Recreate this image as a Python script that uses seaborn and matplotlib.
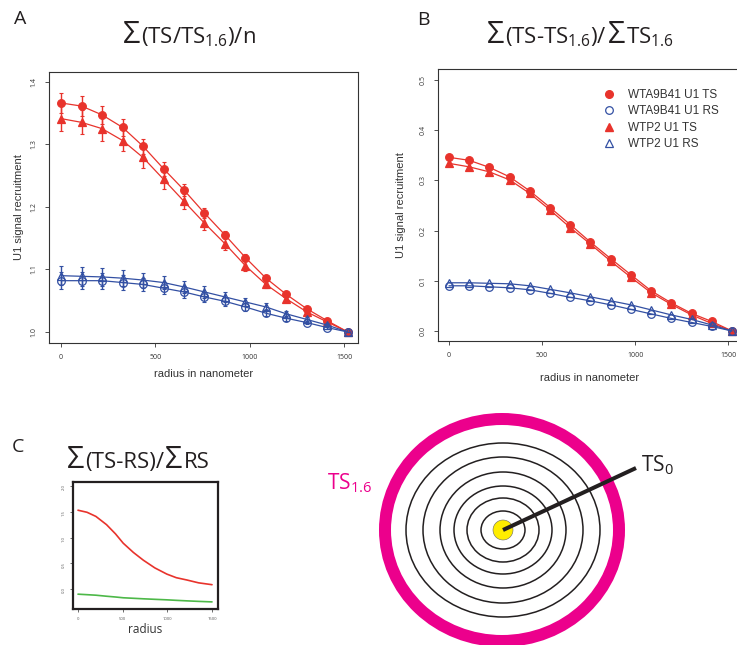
import seaborn as sns
import matplotlib.pyplot as plt
from matplotlib.lines import Line2D
from matplotlib.patches import Ellipse

# radius grid (nm) shared by panels A and B
radius = [0, 109, 217, 326, 434, 543, 651, 760, 869, 977, 1086, 1194, 1303, 1411, 1520]

# Panel A: sum(TS/TS1.6)/n
a_wta_ts = [1.366, 1.361, 1.347, 1.327, 1.297, 1.261, 1.227, 1.190, 1.155, 1.119, 1.086, 1.060, 1.037, 1.018, 1.000]
a_wta_ts_err = [0.016, 0.016, 0.014, 0.014, 0.012, 0.011, 0.010, 0.008, 0.006, 0.005, 0.004, 0.003, 0.003, 0.002, 0.0]
a_wtp_ts = [1.341, 1.335, 1.325, 1.306, 1.279, 1.244, 1.209, 1.174, 1.141, 1.106, 1.076, 1.053, 1.032, 1.016, 1.000]
a_wtp_ts_err = [0.020, 0.019, 0.020, 0.017, 0.017, 0.015, 0.012, 0.011, 0.010, 0.008, 0.006, 0.005, 0.004, 0.003, 0.0]
a_wta_rs = [1.082, 1.082, 1.082, 1.079, 1.076, 1.070, 1.064, 1.056, 1.049, 1.040, 1.030, 1.022, 1.015, 1.007, 1.000]
a_wta_rs_err = [0.014, 0.014, 0.013, 0.012, 0.011, 0.010, 0.009, 0.008, 0.007, 0.006, 0.005, 0.004, 0.003, 0.002, 0.0]
a_wtp_rs = [1.090, 1.089, 1.088, 1.086, 1.083, 1.079, 1.072, 1.064, 1.056, 1.048, 1.040, 1.029, 1.020, 1.011, 1.000]
a_wtp_rs_err = [0.015, 0.015, 0.014, 0.013, 0.012, 0.011, 0.010, 0.009, 0.008, 0.007, 0.006, 0.005, 0.004, 0.003, 0.0]

# Panel B: sum(TS-TS1.6)/sum(TS1.6)
b_wta_ts = [0.346, 0.340, 0.326, 0.307, 0.279, 0.246, 0.212, 0.177, 0.144, 0.112, 0.080, 0.056, 0.035, 0.019, 0.0]
b_wtp_ts = [0.334, 0.327, 0.317, 0.301, 0.274, 0.241, 0.206, 0.173, 0.139, 0.107, 0.076, 0.053, 0.032, 0.015, 0.0]
b_wta_rs = [0.090, 0.090, 0.088, 0.086, 0.082, 0.075, 0.067, 0.060, 0.052, 0.043, 0.034, 0.025, 0.017, 0.009, 0.0]
b_wtp_rs = [0.096, 0.096, 0.095, 0.094, 0.090, 0.083, 0.076, 0.068, 0.060, 0.052, 0.042, 0.032, 0.023, 0.012, 0.0]

series_labels = ["WTA9B41 U1 TS", "WTA9B41 U1 RS", "WTP2 U1 TS", "WTP2 U1 RS"]

# Panel C: sum(TS-RS)/sum(RS)
c_radius = [0, 101, 200, 319, 420, 506, 620, 731, 860, 994, 1100, 1219, 1350, 1500]
c_red = [1.53, 1.49, 1.41, 1.25, 1.07, 0.89, 0.71, 0.56, 0.41, 0.29, 0.22, 0.175, 0.12, 0.084]
c_green = [-0.10, -0.11, -0.12, -0.14, -0.155, -0.17, -0.18, -0.19, -0.20, -0.21, -0.22, -0.23, -0.24, -0.25]

RED = "#E8332C"
BLUE = "#3350A3"
GREEN = "#4DB848"
MAGENTA = "#EC008C"
DARK = "#231F20"

W, H = 737, 645

sns.set_theme(style="ticks")
plt.rcParams["font.family"] = ["Open Sans", "DejaVu Sans"]
plt.rcParams["mathtext.fontset"] = "custom"
plt.rcParams["mathtext.rm"] = "Open Sans"
plt.rcParams["mathtext.it"] = "Open Sans:italic"
plt.rcParams["mathtext.bf"] = "Open Sans:bold"

fig = plt.figure(figsize=(W / 100, H / 100), dpi=100)


def px_axes(left, top, right, bottom):
    return fig.add_axes([left / W, 1 - bottom / H, (right - left) / W, (bottom - top) / H])


def draw_pieces(x_px, base_px, pieces, color=DARK):
    # draw text pieces side by side on one baseline (large sigma + normal text)
    renderer = fig.canvas.get_renderer()
    x = x_px
    for s, size in pieces:
        t = fig.text(x / W, 1 - base_px / H, s, fontsize=size, va="baseline", ha="left", color=color)
        x += t.get_window_extent(renderer).width + 1


def style_r_axes(ax, lw=0.8, labelsize=5):
    for sp in ax.spines.values():
        sp.set_visible(True)
        sp.set_linewidth(lw)
        sp.set_color("#333333")
    ax.tick_params(axis="both", length=3, width=0.6, colors="#333333", labelsize=labelsize, pad=5)
    ax.tick_params(axis="y", labelrotation=90)
    for lab in ax.get_yticklabels():
        lab.set_va("center")


def line(ax, y, color, marker, filled, ms):
    sns.lineplot(x=radius, y=y, ax=ax, color=color, linewidth=0.9, marker=marker,
                 markersize=ms, markerfacecolor=color if filled else "none",
                 markeredgecolor=color, markeredgewidth=0.9, legend=False)


# ---------------- Panel A ----------------
ax_a = px_axes(49, 72, 358, 343)
for y, err, c, m, f in [(a_wta_ts, a_wta_ts_err, RED, "o", True),
                        (a_wtp_ts, a_wtp_ts_err, RED, "^", True),
                        (a_wta_rs, a_wta_rs_err, BLUE, "o", False),
                        (a_wtp_rs, a_wtp_rs_err, BLUE, "^", False)]:
    ax_a.errorbar(radius, y, yerr=err, fmt="none", ecolor=c, elinewidth=1.0, capsize=1.5, capthick=0.8)
    line(ax_a, y, c, m, f, 5.5)
ax_a.set_xlim(-64, 1574)
ax_a.set_ylim(0.9824, 1.4155)
ax_a.set_xticks([0, 500, 1000, 1500])
ax_a.set_yticks([1.0, 1.1, 1.2, 1.3, 1.4])
ax_a.set_xlabel("radius in nanometer", fontsize=8, family="Liberation Sans", color="#333333")
ax_a.set_ylabel("U1 signal recruitment", fontsize=8, family="Liberation Sans", color="#333333")
ax_a.xaxis.set_label_coords(0.5, -(369 - 343) / 271)
ax_a.yaxis.set_label_coords((24 - 49) / 309, 0.5)
style_r_axes(ax_a)

# ---------------- Panel B ----------------
ax_b = px_axes(438, 69, 742, 341)
for y, c, m, f in [(b_wta_ts, RED, "o", True), (b_wtp_ts, RED, "^", True),
                   (b_wta_rs, BLUE, "o", False), (b_wtp_rs, BLUE, "^", False)]:
    line(ax_b, y, c, m, f, 5.5)
ax_b.set_xlim(-59, 1574)
ax_b.set_ylim(-0.020, 0.522)
ax_b.set_xticks([0, 500, 1000, 1500])
ax_b.set_yticks([0.0, 0.1, 0.2, 0.3, 0.4, 0.5])
ax_b.set_xlabel("radius in nanometer", fontsize=8, family="Liberation Sans", color="#333333")
ax_b.set_ylabel("U1 signal recruitment", fontsize=8, family="Liberation Sans", color="#333333")
ax_b.xaxis.set_label_coords(0.5, -(373 - 341) / 272)
ax_b.yaxis.set_label_coords((406 - 438) / 304, 0.5)
style_r_axes(ax_b)

handles = [Line2D([], [], ls="none", marker="o", ms=5.5, mfc=RED, mec=RED),
           Line2D([], [], ls="none", marker="o", ms=5.5, mfc="none", mec=BLUE, mew=0.9),
           Line2D([], [], ls="none", marker="^", ms=5.5, mfc=RED, mec=RED),
           Line2D([], [], ls="none", marker="^", ms=5.5, mfc="none", mec=BLUE, mew=0.9)]
leg = ax_b.legend(handles, series_labels, loc="upper left", bbox_to_anchor=(604 / W, 1 - 89 / H),
                  bbox_transform=fig.transFigure, frameon=False, borderpad=0, borderaxespad=0,
                  handlelength=0.8, handletextpad=1.2, labelspacing=0.38,
                  prop={"family": "Liberation Sans", "size": 8.5})
for t in leg.get_texts():
    t.set_color("#333333")

# ---------------- Panel C ----------------
ax_c = px_axes(73, 482, 218, 609)
sns.lineplot(x=c_radius, y=c_red, ax=ax_c, color=RED, linewidth=1.2)
sns.lineplot(x=c_radius, y=c_green, ax=ax_c, color=GREEN, linewidth=1.2)
ax_c.set_xlim(-56, 1567)
ax_c.set_ylim(-0.388, 2.078)
ax_c.set_xticks([0, 500, 1000, 1500])
ax_c.set_yticks([0.0, 0.5, 1.0, 1.5, 2.0])
for sp in ax_c.spines.values():
    sp.set_visible(True)
    sp.set_linewidth(1.6)
    sp.set_color(DARK)
ax_c.tick_params(axis="both", length=2.5, width=0.6, labelsize=3, pad=3, colors="#555555")
ax_c.tick_params(axis="y", labelrotation=90)
ax_c.set_xlabel("radius", fontsize=8.5, color="#333333", labelpad=2)

# ---------------- target diagram ----------------
ax_d = px_axes(370, 400, 737, 645)
ax_d.set_xlim(370, 737)
ax_d.set_ylim(645, 400)
ax_d.axis("off")
cx, cy = 503, 530
ax_d.add_patch(Ellipse((cx - 1, cy), 234, 222, fill=False, ec=MAGENTA, lw=12 * 0.72))
for rx, ry in [(22, 19), (36, 32), (49, 44), (63, 58), (80, 73), (97, 87)]:
    ax_d.add_patch(Ellipse((cx, cy), 2 * rx, 2 * ry, fill=False, ec=DARK, lw=1.1))
ax_d.add_patch(Ellipse((cx, cy), 20, 20, fc="#FFED00", ec="#666666", lw=0.4))
ax_d.plot([cx, 636], [cy, 468], color=DARK, lw=2.9, solid_capstyle="butt")
ax_d.text(641, 471, "TS$_0$", fontsize=15, color=DARK, va="baseline")
fig.text(327 / W, 1 - 489 / H, "TS$_{1.6}$", fontsize=15, color=MAGENTA, va="baseline")

# ---------------- labels and titles ----------------
fig.text(14 / W, 1 - 24 / H, "A", fontsize=14, color=DARK, va="baseline")
fig.text(417 / W, 1 - 25 / H, "B", fontsize=14, color=DARK, va="baseline")
fig.text(12 / W, 1 - 452 / H, "C", fontsize=14, color=DARK, va="baseline")

draw_pieces(123, 43, [("Σ", 22), ("(TS/TS$_{1.6}$)/n", 16)])
draw_pieces(487, 43, [("Σ", 22), ("(TS-TS$_{1.6}$)/", 16), ("Σ", 22), ("TS$_{1.6}$", 16)])
draw_pieces(67, 468, [("Σ", 22), ("(TS-RS)/", 16), ("Σ", 22), ("RS", 16)])

plt.savefig("out.png", dpi=100)
plt.close()
